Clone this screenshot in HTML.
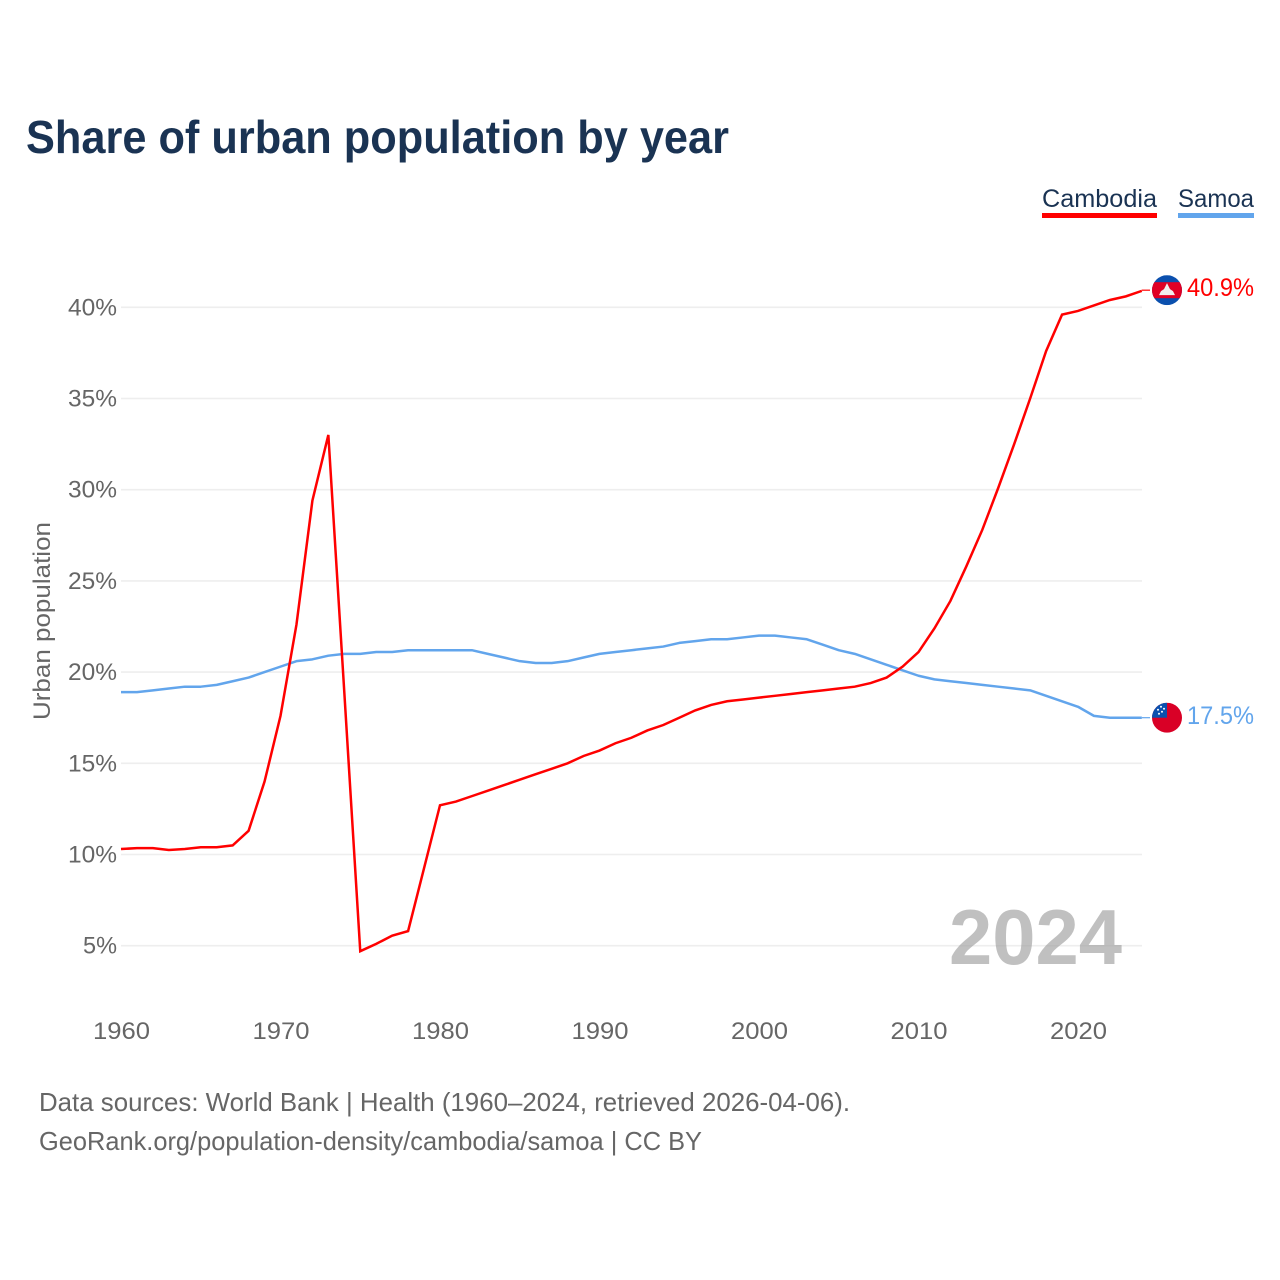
<!DOCTYPE html>
<html lang="en">
<head>
<meta charset="utf-8">
<title>Share of urban population by year</title>
<style>
html,body{margin:0;padding:0;background:#fff;width:1280px;height:1280px;overflow:hidden}
svg{display:block}
text{font-family:"Liberation Sans",sans-serif}
</style>
</head>
<body>
<svg id="chart" xmlns="http://www.w3.org/2000/svg" width="1280" height="1280" viewBox="0 0 1280 1280">
  <rect width="1280" height="1280" fill="#ffffff"/>
  <text x="26" y="153" font-size="46" font-weight="700" fill="#1a3353" textLength="703" lengthAdjust="spacingAndGlyphs">Share of urban population by year</text>

  <g>
    <text x="1042" y="207" font-size="25" fill="#1a3353" textLength="115" lengthAdjust="spacingAndGlyphs">Cambodia</text>
    <rect x="1042" y="213" width="115" height="5" fill="#ff0000"/>
  </g>
  <g>
    <text x="1178" y="207" font-size="25" fill="#1a3353" textLength="76" lengthAdjust="spacingAndGlyphs">Samoa</text>
    <rect x="1178" y="213" width="76" height="5" fill="#62a5ec"/>
  </g>

  <g id="grid"></g>
  <g id="yticks"></g>
  <g id="xticks"></g>

  <text transform="translate(50,720) rotate(-90)" x="0" y="0" font-size="24" fill="#666666" textLength="198" lengthAdjust="spacingAndGlyphs">Urban population</text>

  <text x="949" y="964" font-size="78" font-weight="700" fill="#9a9a9a" fill-opacity="0.62" textLength="173" lengthAdjust="spacingAndGlyphs">2024</text>

  <g id="series"></g>
  <g id="ends"></g>

  <text x="39" y="1111" font-size="26" fill="#666666" textLength="811" lengthAdjust="spacingAndGlyphs">Data sources: World Bank | Health (1960–2024, retrieved 2026-04-06).</text>
  <text x="39" y="1150" font-size="26" fill="#666666" textLength="663" lengthAdjust="spacingAndGlyphs">GeoRank.org/population-density/cambodia/samoa | CC BY</text>
</svg>

<script>
const startYear = 1960;
const xTickYears = [1960, 1970, 1980, 1990, 2000, 2010, 2020];
const yTickValues = [5, 10, 15, 20, 25, 30, 35, 40];
const cambodiaValues = [
  10.3, 10.35, 10.35, 10.25, 10.3, 10.4, 10.4, 10.5, 11.3, 14.0,
  17.6, 22.6, 29.4, 33.0, 18.9, 4.7, 5.1, 5.55, 5.8, 9.25,
  12.7, 12.9, 13.2, 13.5, 13.8, 14.1, 14.4, 14.7, 15.0, 15.4,
  15.7, 16.1, 16.4, 16.8, 17.1, 17.5, 17.9, 18.2, 18.4, 18.5,
  18.6, 18.7, 18.8, 18.9, 19.0, 19.1, 19.2, 19.4, 19.7, 20.3,
  21.1, 22.4, 23.9, 25.8, 27.8, 30.1, 32.5, 35.0, 37.6, 39.6,
  39.8, 40.1, 40.4, 40.6, 40.9
];
const samoaValues = [
  18.9, 18.9, 19.0, 19.1, 19.2, 19.2, 19.3, 19.5, 19.7, 20.0,
  20.3, 20.6, 20.7, 20.9, 21.0, 21.0, 21.1, 21.1, 21.2, 21.2,
  21.2, 21.2, 21.2, 21.0, 20.8, 20.6, 20.5, 20.5, 20.6, 20.8,
  21.0, 21.1, 21.2, 21.3, 21.4, 21.6, 21.7, 21.8, 21.8, 21.9,
  22.0, 22.0, 21.9, 21.8, 21.5, 21.2, 21.0, 20.7, 20.4, 20.1,
  19.8, 19.6, 19.5, 19.4, 19.3, 19.2, 19.1, 19.0, 18.7, 18.4,
  18.1, 17.6, 17.5, 17.5, 17.5
];

const SVG_NS = 'http://www.w3.org/2000/svg';
const xOf = function (year) { return 121 + (year - 1960) * 15.95; };
const yOf = function (value) { return 945.7 - (value - 5) * 18.24; };

function make(tag, attrs, parent) {
  const el = document.createElementNS(SVG_NS, tag);
  Object.keys(attrs).forEach(function (k) { el.setAttribute(k, attrs[k]); });
  parent.appendChild(el);
  return el;
}

const gridGroup = document.getElementById('grid');
const yTickGroup = document.getElementById('yticks');
const xTickGroup = document.getElementById('xticks');
const seriesGroup = document.getElementById('series');
const endGroup = document.getElementById('ends');

yTickValues.forEach(function (v) {
  const line = make('line', { x1: 121, x2: 1142, y1: yOf(v), y2: yOf(v), stroke: '#eeeeee', 'stroke-width': 1.6 }, gridGroup);
  
  
  const label = v + '%';
  const tick = make('text', { x: 117, y: yOf(v) + 8, 'text-anchor': 'end', 'font-size': 24, fill: '#666666', textLength: label.length === 2 ? 34 : 49, lengthAdjust: 'spacingAndGlyphs' }, yTickGroup);
  tick.textContent = label;
  
  
});

xTickYears.forEach(function (year) {
  const tick = make('text', { x: xOf(year) + 0.5, y: 1039, 'text-anchor': 'middle', 'font-size': 24, fill: '#666666', textLength: 57, lengthAdjust: 'spacingAndGlyphs' }, xTickGroup);
  tick.textContent = String(year);
  
  
});

function pointsFor(values) {
  return values.map(function (v, i) {
    return xOf(startYear + i).toFixed(2) + ',' + yOf(v).toFixed(2);
  }).join(' ');
}

const samoaLine = make('polyline', { points: pointsFor(samoaValues), fill: 'none', stroke: '#62a5ec', 'stroke-width': 2.5, 'stroke-linejoin': 'round' }, seriesGroup);


const cambodiaLine = make('polyline', { points: pointsFor(cambodiaValues), fill: 'none', stroke: '#ff0000', 'stroke-width': 2.5, 'stroke-linejoin': 'miter' }, seriesGroup);



const lastYear = startYear + cambodiaValues.length - 1;
const lastX = xOf(lastYear);
const flagX = 1167;
const defs = make('defs', {}, endGroup);

/* Cambodia end marker */
const cy1 = yOf(cambodiaValues[cambodiaValues.length - 1]) - 0.7;
const clip1 = make('clipPath', { id: 'flag-clip-cambodia' }, defs);
make('circle', { cx: flagX, cy: cy1, r: 15 }, clip1);
const connector1 = make('line', { x1: lastX, x2: 1150, y1: cy1, y2: cy1, stroke: '#ff0000', 'stroke-width': 1.2 }, endGroup);


const flag1 = make('g', { 'clip-path': 'url(#flag-clip-cambodia)' }, endGroup);


make('rect', { x: flagX - 15, y: cy1 - 15, width: 30, height: 30, fill: '#0b50ae' }, flag1);
make('rect', { x: flagX - 15, y: cy1 - 8, width: 30, height: 16, fill: '#e00025' }, flag1);
make('polygon', { points: [flagX - 8, cy1 + 5, flagX - 6, cy1 + 1, flagX - 3, cy1 - 1, flagX, cy1 - 7, flagX + 3, cy1 - 1, flagX + 6, cy1 + 1, flagX + 8, cy1 + 5].join(' '), fill: '#f2eeee' }, flag1);
const value1 = make('text', { x: 1187, y: cy1 + 6, 'font-size': 25, fill: '#ff0000', textLength: 67, lengthAdjust: 'spacingAndGlyphs' }, endGroup);
value1.textContent = cambodiaValues[cambodiaValues.length - 1].toFixed(1) + '%';



/* Samoa end marker */
const cy2 = yOf(samoaValues[samoaValues.length - 1]);
const clip2 = make('clipPath', { id: 'flag-clip-samoa' }, defs);
make('circle', { cx: flagX, cy: cy2, r: 15 }, clip2);
const connector2 = make('line', { x1: lastX, x2: 1150, y1: cy2, y2: cy2, stroke: '#62a5ec', 'stroke-width': 1.2 }, endGroup);


const flag2 = make('g', { 'clip-path': 'url(#flag-clip-samoa)' }, endGroup);


make('rect', { x: flagX - 15, y: cy2 - 15, width: 30, height: 30, fill: '#d90026' }, flag2);
make('rect', { x: flagX - 15, y: cy2 - 15, width: 15, height: 15, fill: '#0b50ae' }, flag2);
[[-9, -8], [-6, -11], [-5, -6], [-8, -4], [-3, -9]].forEach(function (s) {
  make('circle', { cx: flagX + s[0], cy: cy2 + s[1], r: 1, fill: '#ffffff' }, flag2);
});
const value2 = make('text', { x: 1187, y: cy2 + 6.5, 'font-size': 25, fill: '#62a5ec', textLength: 67, lengthAdjust: 'spacingAndGlyphs' }, endGroup);
value2.textContent = samoaValues[samoaValues.length - 1].toFixed(1) + '%';


</script>
</body>
</html>
